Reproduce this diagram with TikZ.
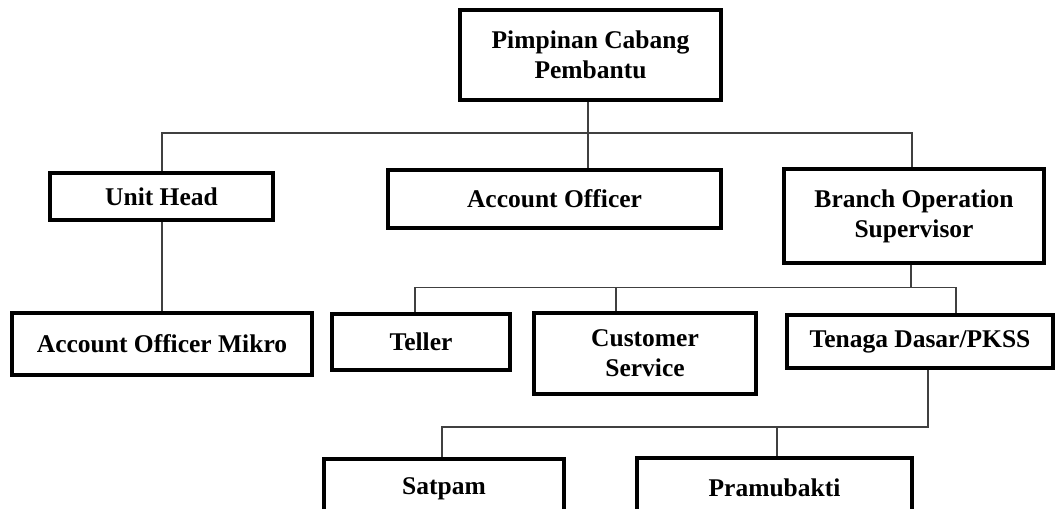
\documentclass[tikz,border=0pt]{standalone}
\usepackage{fontspec}
\setmainfont{Liberation Serif}
\begin{document}
\begin{tikzpicture}[x=1pt,y=-1pt,
  box/.style={draw=black, line width=4pt, fill=white, inner sep=0pt, align=center,
    font=\fontsize{25.5}{30}\selectfont\bfseries},
  conn/.style={draw=black!75, line width=1.6pt}]
\useasboundingbox (0,0) rectangle (1056,508);
\clip (0,0) rectangle (1056,508);
\fill[white] (0,0) rectangle (1056,508);
% nodes
\node[box, minimum width=261pt, minimum height=90pt] (top) at (590.5,55) {Pimpinan Cabang\\Pembantu};
\node[box, minimum width=223pt, minimum height=47pt] (uh) at (161.5,196.5) {Unit Head};
\node[box, minimum width=333pt, minimum height=58pt] (ao) at (554.5,199) {Account Officer};
\node[box, minimum width=260pt, minimum height=94pt] (bos) at (914,216) {Branch Operation\\Supervisor};
\node[box, minimum width=300pt, minimum height=62pt] (aom) at (162,344) {Account Officer Mikro};
\node[box, minimum width=178pt, minimum height=56pt] (tel) at (421,342) {Teller};
\node[box, minimum width=222pt, minimum height=81pt] (cs) at (645,353.5) {Customer\\Service};
\node[box, minimum width=266pt, minimum height=53pt] (ten) at (920,341.5) {Tenaga Dasar/PKSS};
\node[box, minimum width=240pt, minimum height=59pt] (sat) at (444,488.5) {Satpam};
\node[box, minimum width=275pt, minimum height=60pt] (pra) at (774.5,488) {Pramubakti};
% bus coordinates
\coordinate (h1) at (588,133);
\coordinate (b1l) at (162,133);
\coordinate (b1r) at (912,133);
\coordinate (h2) at (911,287.5);
\coordinate (b2l) at (415,287.5);
\coordinate (b2m) at (616,287.5);
\coordinate (b2r) at (956,287.5);
\coordinate (h3) at (928,427);
\coordinate (b3l) at (442,427);
\coordinate (b3m) at (777,427);
% connectors
\begin{scope}[on background layer/.style={}]
\draw[conn] (top.south -| h1) -- (h1) -- (h1 |- ao.north);
\draw[conn] (uh.north -| b1l) -- (b1l) -- (b1r) -- (b1r |- bos.north);
\draw[conn] (uh.south -| b1l) -- (aom.north -| b1l);
\draw[conn] (bos.south -| h2) -- (h2);
\draw[conn] (tel.north -| b2l) -- (b2l) -- (b2r) -- (ten.north -| b2r);
\draw[conn] (b2m) -- (cs.north -| b2m);
\draw[conn] (ten.south -| h3) -- (h3) -- (b3l) -- (sat.north -| b3l);
\draw[conn] (b3m) -- (pra.north -| b3m);
\end{scope}
\end{tikzpicture}
\end{document}
